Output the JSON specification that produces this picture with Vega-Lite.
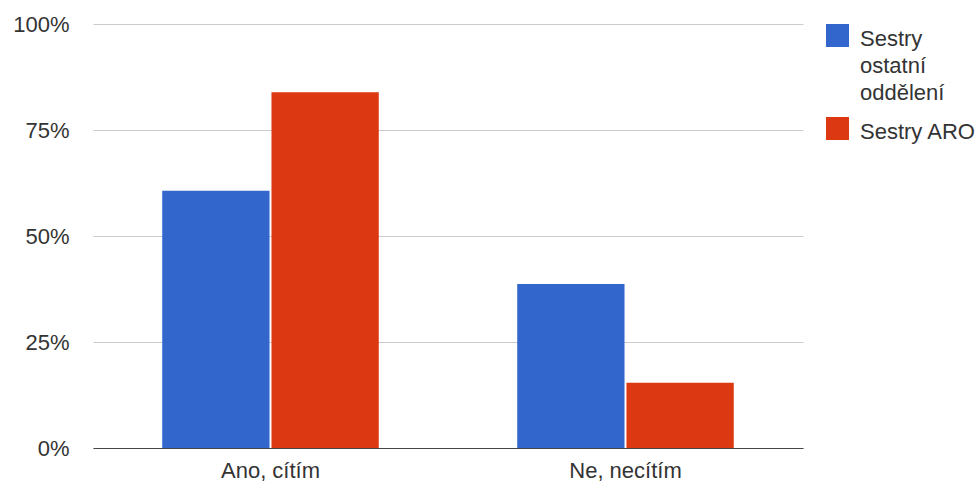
{
  "$schema": "https://vega.github.io/schema/vega-lite/v6.json",
  "width": 710,
  "height": 424,
  "autosize": {"type": "none"},
  "padding": {"left": 93, "top": 24, "right": 177, "bottom": 36},
  "background": "white",
  "config": {
    "view": {"stroke": null},
    "font": "Liberation Sans"
  },
  "data": {
    "values": [
      {"odpoved": "Ano, cítím", "skupina": "Sestry ostatní oddělení", "podil": 0.607},
      {"odpoved": "Ano, cítím", "skupina": "Sestry ARO", "podil": 0.839},
      {"odpoved": "Ne, necítím", "skupina": "Sestry ostatní oddělení", "podil": 0.387},
      {"odpoved": "Ne, necítím", "skupina": "Sestry ARO", "podil": 0.154}
    ]
  },
  "mark": {"type": "bar"},
  "encoding": {
    "x": {
      "field": "odpoved",
      "type": "nominal",
      "sort": ["Ano, cítím", "Ne, necítím"],
      "scale": {"paddingInner": 0.39, "paddingOuter": 0.195},
      "axis": {
        "title": null,
        "labelAngle": 0,
        "labelFontSize": 22,
        "labelColor": "#333",
        "ticks": false,
        "domainColor": "#444",
        "domainWidth": 1,
        "labelPadding": 12,
        "grid": false
      }
    },
    "xOffset": {
      "field": "skupina",
      "type": "nominal",
      "sort": ["Sestry ostatní oddělení", "Sestry ARO"],
      "scale": {"paddingInner": 0.018, "paddingOuter": 0}
    },
    "y": {
      "field": "podil",
      "type": "quantitative",
      "scale": {"domain": [0, 1]},
      "axis": {
        "title": null,
        "format": "0%",
        "values": [0, 0.25, 0.5, 0.75, 1],
        "domain": false,
        "ticks": false,
        "labelPadding": 24,
        "labelFontSize": 22,
        "labelColor": "#333",
        "gridColor": "#cccccc",
        "gridWidth": 1
      }
    },
    "color": {
      "field": "skupina",
      "type": "nominal",
      "scale": {
        "domain": ["Sestry ostatní oddělení", "Sestry ARO"],
        "range": ["#3366cc", "#dc3912"]
      },
      "legend": {
        "title": null,
        "orient": "right",
        "offset": 23,
        "padding": 0,
        "rowPadding": 13,
        "symbolType": "square",
        "symbolSize": 529,
        "symbolStrokeWidth": 0,
        "labelFontSize": 22,
        "labelColor": "#333",
        "labelOffset": 11,
        "labelLimit": 200,
        "labelBaseline": "alphabetic",
        "labelExpr": "length(datum.label) > 12 ? split(datum.label, ' ') : datum.label",
        "encode": {
          "labels": {
            "update": {
              "dy": {"value": 10.5},
              "lineHeight": {"value": 27}
            }
          }
        }
      }
    }
  }
}
